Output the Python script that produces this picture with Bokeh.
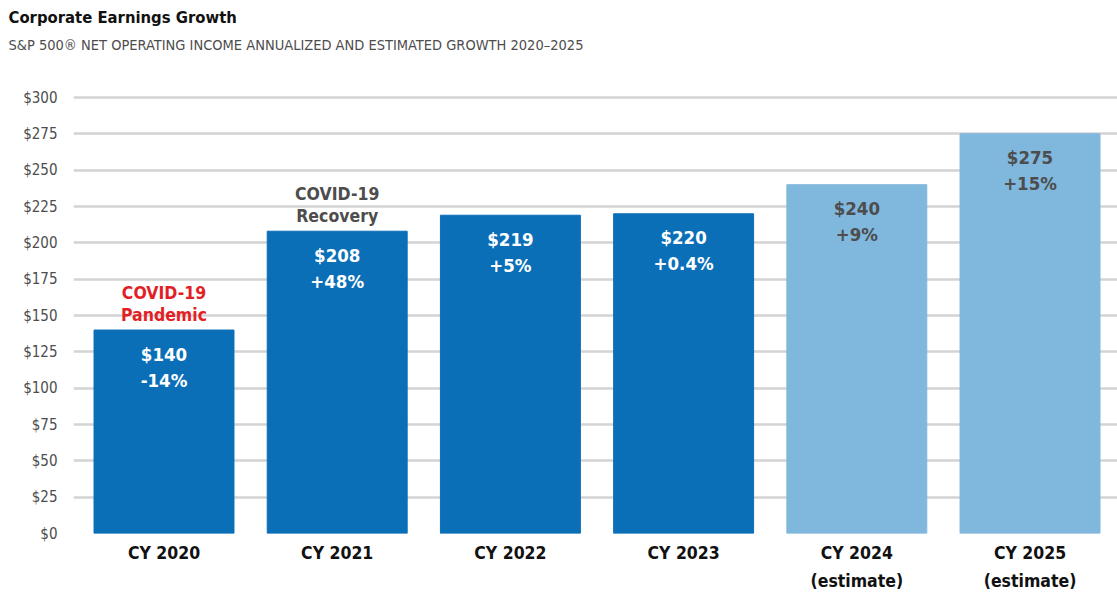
from bokeh.plotting import figure
from bokeh.models import ColumnDataSource, Range1d, FixedTicker, LinearAxis, Title
from bokeh.core.properties import value
from bokeh.embed import file_html
from bokeh.resources import INLINE

# ---- data ----
categories = ["CY 2020", "CY 2021", "CY 2022", "CY 2023", "CY 2024", "CY 2025"]
sublabels = ["", "", "", "", "(estimate)", "(estimate)"]
earnings = [140, 208, 219, 220, 240, 275]
value_labels = ["$140", "$208", "$219", "$220", "$240", "$275"]
growth_labels = ["-14%", "+48%", "+5%", "+0.4%", "+9%", "+15%"]
is_estimate = [False, False, False, False, True, True]
annot_index = [0, 1]
annot_line1 = ["COVID-19", "COVID-19"]
annot_line2 = ["Pandemic", "Recovery"]
y_ticks = list(range(0, 301, 25))

title_text = "Corporate Earnings Growth"
subtitle_text = "S&P 500\u00ae NET OPERATING INCOME ANNUALIZED AND ESTIMATED GROWTH 2020\u20132025"

# ---- style ----
FONT = "'DejaVu Sans Condensed', 'DejaVu Sans', sans-serif"
DARK = "#0b6fb8"
LIGHT = "#80b7dd"
RED = "#e31f26"
GRAY_TXT = "#4d4d4d"

xs = list(range(len(categories)))
src = ColumnDataSource(dict(
    x=xs,
    top=earnings,
    vlabel=value_labels,
    glabel=growth_labels,
    color=[LIGHT if e else DARK for e in is_estimate],
    tcolor=[GRAY_TXT if e else "white" for e in is_estimate],
))

p = figure(width=1117, height=595,
           x_range=Range1d(-0.5225, 5.505), y_range=Range1d(0, 325.46),
           output_backend="svg", toolbar_location=None,
           min_border_left=73, min_border_right=0, min_border_top=60, min_border_bottom=62)
p.outline_line_color = None
p.background_fill_color = "white"
p.border_fill_color = "white"

# titles (first added sits closest to the plot)
p.add_layout(Title(text=subtitle_text, align="left", offset=-65, standoff=15,
                   text_font=FONT, text_font_size="14.5px", text_font_style="normal",
                   text_color=GRAY_TXT), "above")
p.add_layout(Title(text=title_text, align="left", offset=-65, standoff=2,
                   text_font=FONT, text_font_size="16.5px", text_font_style="bold",
                   text_color="#111111"), "above")

# grid
p.xgrid.grid_line_color = None
p.ygrid.ticker = FixedTicker(ticks=y_ticks)
p.ygrid.grid_line_color = "#d4d4d4"
p.ygrid.grid_line_width = 2.5

# y axis
yax = p.yaxis[0]
yax.ticker = FixedTicker(ticks=y_ticks)
yax.major_label_overrides = {t: f"${t}" for t in y_ticks}
yax.axis_line_color = None
yax.major_tick_line_color = None
yax.minor_tick_line_color = None
yax.major_tick_out = 0
yax.major_tick_in = 0
yax.major_label_standoff = 16
yax.major_label_text_font = FONT
yax.major_label_text_font_size = "15px"
yax.major_label_text_color = GRAY_TXT

# x axis (category names)
xax = p.xaxis[0]
xax.ticker = FixedTicker(ticks=xs)
xax.major_label_overrides = {i: c for i, c in zip(xs, categories)}
xax.axis_line_color = None
xax.major_tick_line_color = None
xax.minor_tick_line_color = None
xax.major_tick_out = 0
xax.major_tick_in = 0
xax.major_label_standoff = 9
xax.major_label_text_font = FONT
xax.major_label_text_font_size = "17.5px"
xax.major_label_text_font_style = "bold"
xax.major_label_text_color = "#111111"

# second x axis for "(estimate)"
xax2 = LinearAxis(ticker=FixedTicker(ticks=xs),
                  major_label_overrides={i: s for i, s in zip(xs, sublabels)})
xax2.axis_line_color = None
xax2.major_tick_line_color = None
xax2.minor_tick_line_color = None
xax2.major_tick_out = 0
xax2.major_tick_in = 0
xax2.major_label_standoff = 5
xax2.major_label_text_font = FONT
xax2.major_label_text_font_size = "17.5px"
xax2.major_label_text_font_style = "bold"
xax2.major_label_text_color = "#111111"
p.add_layout(xax2, "below")

# bars
p.vbar(x="x", top="top", width=0.808, color="color", source=src)

# bar labels
common = dict(text_align="center", text_baseline="middle",
              text_font=value(FONT), text_font_style="bold", text_font_size="18.5px")
p.text(x="x", y="top", text="vlabel", y_offset=24, text_color="tcolor", source=src, **common)
p.text(x="x", y="top", text="glabel", y_offset=50, text_color="tcolor", source=src, **common)

# annotations above first bars
ann_y = [earnings[i] for i in annot_index]
ann_style = dict(text_align="center", text_baseline="middle",
                 text_font=value(FONT), text_font_style="bold", text_font_size="17.5px")
p.text(x=annot_index, y=ann_y, text=annot_line1, y_offset=-37,
       text_color=[RED, GRAY_TXT], **ann_style)
p.text(x=annot_index, y=ann_y, text=annot_line2, y_offset=-15,
       text_color=[RED, GRAY_TXT], **ann_style)

open("out.html", "w").write(file_html(p, INLINE))
